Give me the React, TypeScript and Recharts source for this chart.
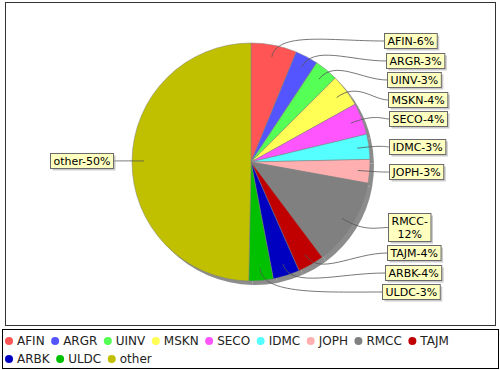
import { useMemo } from 'react'
import { PieChart, Pie, Cell, Customized } from 'recharts'

const names = ['AFIN', 'ARGR', 'UINV', 'MSKN', 'SECO', 'IDMC', 'JOPH', 'RMCC', 'TAJM', 'ARBK', 'ULDC', 'other']
const shares = [6.2, 3.1, 3.2, 4.4, 4.3, 3.4, 3.2, 11.9, 3.6, 3.6, 3.3, 49.6]
const colors = ['#ff5555', '#5555ff', '#55ff55', '#ffff55', '#ff55ff', '#55ffff', '#ffafaf', '#808080', '#c00000', '#0000c0', '#00c000', '#c0c000']

const CX = 251
const CY = 162
const R = 119
const FONT = '"DejaVu Sans", Verdana, sans-serif'

const data = names.map((name, i) => ({ name, value: shares[i] }))

type Box = { lines: string[]; w: number; h: number; y: number; right: boolean }

let ctx: CanvasRenderingContext2D | null = null
function textWidth(s: string, size = 11) {
  if (!ctx) ctx = document.createElement('canvas').getContext('2d')
  if (!ctx) return s.length * size * 0.6
  ctx.font = `${size}px ${FONT}`
  return ctx.measureText(s).width
}

// push overlapping labels down, then back up from the bottom limit
function distribute(items: Box[], minY: number, maxY: number, gap: number) {
  items.sort((a, b) => a.y - b.y)
  for (let i = 1; i < items.length; i++) {
    const lb = items[i - 1].y + items[i - 1].h / 2 + gap + items[i].h / 2
    if (items[i].y < lb) items[i].y = lb
  }
  const n = items.length
  if (n && items[n - 1].y + items[n - 1].h / 2 > maxY) {
    items[n - 1].y = maxY - items[n - 1].h / 2
    for (let i = n - 2; i >= 0; i--) {
      const ub = items[i + 1].y - items[i + 1].h / 2 - gap - items[i].h / 2
      if (items[i].y > ub) items[i].y = ub
    }
  }
  if (n && items[0].y - items[0].h / 2 < minY) items[0].y = minY + items[0].h / 2
}

function layoutLabels(): Box[] {
  const total = shares.reduce((a, b) => a + b, 0)
  let acc = 0
  const boxes = shares.map((v, i) => {
    const theta = ((acc + v / 2) / total) * 2 * Math.PI
    acc += v
    const text = `${names[i]}-${Math.round((v / total) * 100)}%`
    let lines = [text]
    if (textWidth(text) > 58) {
      const k = text.indexOf('-') + 1
      lines = [text.slice(0, k), text.slice(k)]
    }
    const w = Math.max(...lines.map((l) => textWidth(l))) + 6
    const h = lines.length * 13 + 2
    return { lines, w, h, y: CY - R * 1.04 * Math.cos(theta), right: theta < Math.PI }
  })
  distribute(boxes.filter((b) => b.right), 10, CY + R + 18, 4.5)
  distribute(boxes.filter((b) => !b.right), 10, CY + R + 18, 4.5)
  return boxes
}

function edgeOffset(y: number) {
  const d = (y - CY) / 125
  return 131 + 7 * Math.sqrt(Math.max(0, 1 - d * d))
}

// legend flows left to right inside its box, wrapping to a second row
function LegendBox() {
  let x = 5
  let row = 0
  const items = names.map((n, i) => {
    const tw = textWidth(n, 12)
    const itemW = 12 + tw
    if (x + itemW > 496) {
      x = 5
      row += 1
    }
    const y = 341 + row * 18
    const el = (
      <g key={n}>
        <circle cx={x + 4} cy={y} r={4} fill={colors[i]} />
        <text x={x + 12} y={y} dominantBaseline="central" fontSize={12} fontFamily={FONT} fill="#222">{n}</text>
      </g>
    )
    x += itemW + 6.5
    return el
  })
  return (
    <g>
      <rect x={5.5} y={2.5} width={490} height={323} fill="none" stroke="#333" />
      <rect x={2.5} y={329.5} width={496} height={39} fill="#fff" stroke="#000" />
      {items}
    </g>
  )
}

export default function App() {
  const boxes = useMemo(layoutLabels, [])

  const renderLabel = (p: any) => {
    const b = boxes[p.index]
    if (!b) return null
    const rad = (-p.midAngle * Math.PI) / 180
    const sx = p.cx + p.outerRadius * 0.9 * Math.cos(rad)
    const sy = p.cy + p.outerRadius * 0.9 * Math.sin(rad)
    const ex = p.cx + p.outerRadius * 1.12 * Math.cos(rad)
    const ey = p.cy + p.outerRadius * 1.12 * Math.sin(rad)
    const off = edgeOffset(b.y)
    const left = Math.round(b.right ? p.cx + off : p.cx - off - b.w) + 0.5
    const top = Math.round(b.y - b.h / 2) + 0.5
    const tx = b.right ? left : left + b.w
    const ty = top + b.h / 2
    const c2x = (ex + tx) / 2
    return (
      <g key={`lbl-${p.index}`}>
        <path d={`M${sx},${sy} C${ex},${ey} ${c2x},${ty} ${tx},${ty}`} fill="none" stroke="#555" strokeWidth={0.8} />
        <rect x={left + 2} y={top + 2} width={b.w} height={b.h} fill="rgba(151,151,151,0.5)" />
        <rect x={left} y={top} width={b.w} height={b.h} fill="#ffffc0" stroke="#6a6a6a" strokeWidth={1} />
        {b.lines.map((ln, k) => (
          <text key={k} x={left + b.w / 2} y={top + 1 + 13 * k + 7} textAnchor="middle" dominantBaseline="central"
            fontSize={11} fontFamily={FONT} fill="#000">
            {ln}
          </text>
        ))}
      </g>
    )
  }

  return (
    <div style={{ position: 'fixed', left: 0, top: 0, width: 500, height: 370, background: '#fff' }}>
      <PieChart width={500} height={370} margin={{ top: 0, right: 0, bottom: 0, left: 0 }}>
        <Customized component={LegendBox} />
        <Pie data={data} dataKey="value" nameKey="name" cx={CX + 4} cy={CY + 4} outerRadius={R}
          startAngle={90} endAngle={-270} fill="#8c8c8c" stroke="none" legendType="none" isAnimationActive={false} />
        <Pie data={data} dataKey="value" nameKey="name" cx={CX} cy={CY} outerRadius={R}
          startAngle={90} endAngle={-270} label={renderLabel} labelLine={false} isAnimationActive={false}>
          {data.map((d, i) => (
            <Cell key={d.name} fill={colors[i]} stroke="#808080" strokeWidth={0.5} />
          ))}
        </Pie>
      </PieChart>
    </div>
  )
}
